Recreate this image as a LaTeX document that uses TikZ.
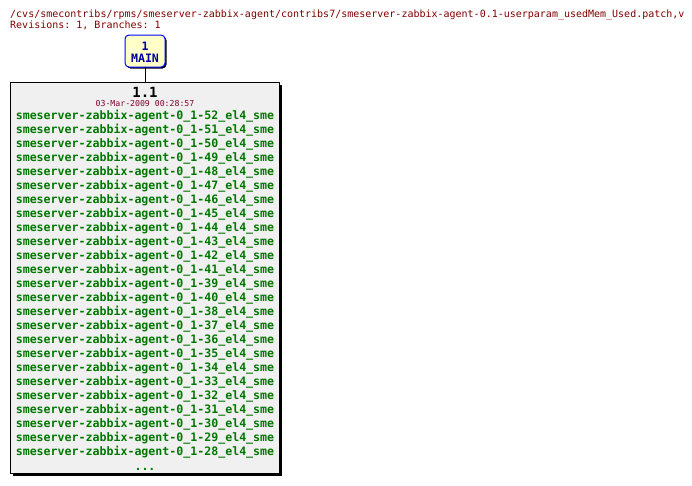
\documentclass[tikz,border=0pt]{standalone}
\usepackage{fontspec}
\setmonofont{DejaVu Sans Mono}
\definecolor{titlered}{HTML}{800000}
\definecolor{taggreen}{HTML}{007800}
\definecolor{datered}{HTML}{800030}
\definecolor{mainblue}{HTML}{0000A0}
\definecolor{mainfill}{HTML}{FFFFC8}
\definecolor{boxfill}{HTML}{F0F0F0}
\tikzset{
  titletext/.style={anchor=base west, inner sep=0pt, text=titlered, font=\ttfamily\fontsize{10}{10}\selectfont},
  tagtext/.style={anchor=base, inner sep=0pt, text=taggreen, font=\ttfamily\bfseries\fontsize{11.6}{11.6}\selectfont},
  maintext/.style={anchor=base, inner sep=0pt, text=mainblue, font=\ttfamily\bfseries\fontsize{11.6}{11.6}\selectfont},
  branchbox/.style={draw=blue, fill=mainfill, rounded corners=4pt, line width=1pt},
  revbox/.style={draw=black, fill=boxfill, line width=1pt},
  shadow/.style={fill=black},
}
\begin{document}
\begin{tikzpicture}[x=1pt,y=-1pt]
\useasboundingbox[fill=white] (0,0) rectangle (692,485);
% header
\node[titletext] (t1) at (10,17) {/cvs/smecontribs/rpms/smeserver-zabbix-agent/contribs7/smeserver-zabbix-agent-0.1-userparam\_usedMem\_Used.patch,v};
\node[titletext] (t2) at (10,28) {Revisions: 1, Branches: 1};
% branch box
\fill[shadow, rounded corners=4pt] (126.5,36.5) rectangle (166.5,68.5);
\draw[branchbox] (125,35) rectangle (165,67);
\coordinate (mainbot) at (145,67);
\node[maintext] (bn) at (145,50) {1};
\node[maintext] (bm) at (145,62) {MAIN};
% revision box
\fill[shadow] (12.5,84.5) rectangle (281.5,475.5);
\draw[revbox] (10,82) rectangle (279,473);
\coordinate (revtop) at (145,82);
\draw[line width=1pt] (mainbot) -- (revtop);
\node[anchor=base, inner sep=0pt, font=\ttfamily\bfseries\fontsize{14}{14}\selectfont] (rev) at (145,97) {1.1};
\node[anchor=base, inner sep=0pt, text=datered, font=\ttfamily\fontsize{8.2}{8.2}\selectfont] (date) at (145,106.5) {03-Mar-2009 00:28:57};
\foreach \n [count=\k from 0] in {52,51,50,49,48,47,46,45,44,43,42,41,39,40,38,37,36,35,34,33,32,31,30,29,28} {
  \node[tagtext] (tag\n) at (145,{119+14*\k}) {smeserver-zabbix-agent-0\_1-\n\_el4\_sme};
}
\node[tagtext] (more) at (145,470) {...};
\end{tikzpicture}
\end{document}
